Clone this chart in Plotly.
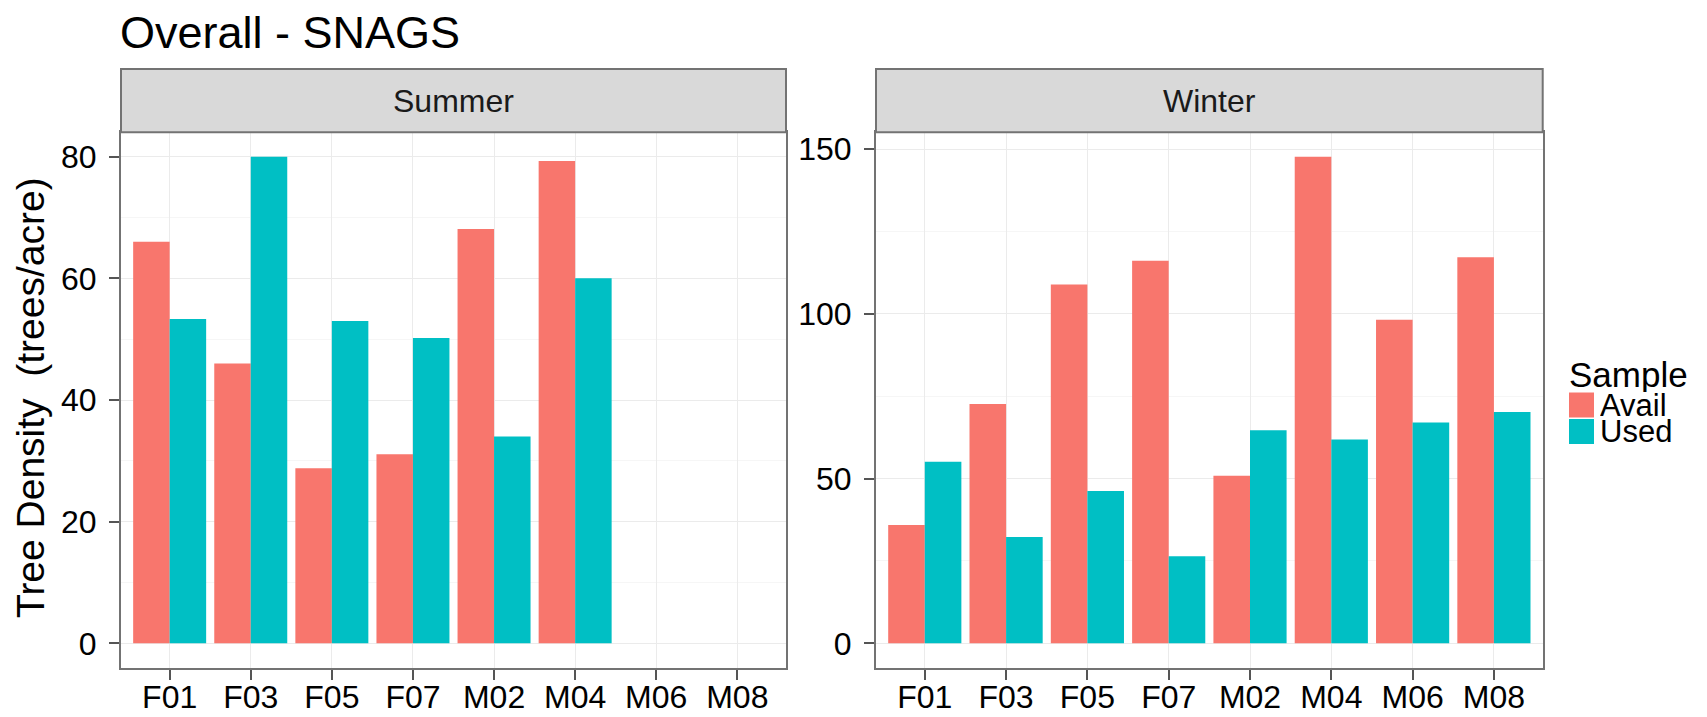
import plotly.graph_objects as go

# ---------------- data ----------------
categories = ["F01", "F03", "F05", "F07", "M02", "M04", "M06", "M08"]
panels = ["Summer", "Winter"]
series = ["Avail", "Used"]
summer_avail = [66.0, 46.0, 28.8, 31.1, 68.1, 79.3, None, None]
summer_used = [53.3, 80.0, 53.0, 50.2, 34.0, 60.0, None, None]
winter_avail = [35.9, 72.6, 108.9, 116.1, 50.9, 147.7, 98.2, 117.2]
winter_used = [55.1, 32.3, 46.2, 26.4, 64.7, 61.9, 67.0, 70.2]
summer_dtick = 20
winter_dtick = 50
title_text = "Overall - SNAGS"
y_title = "Tree Density  (trees/acre)"
legend_title = "Sample"

# ---------------- style ----------------
# The page body has an 8px default margin, so the figure is drawn 8px
# smaller and all target pixel positions are shifted by that offset.
OFF = 8
W, H = 1707 - OFF, 717 - OFF
FONT = "Liberation Sans, Arial, sans-serif"
colors = {"Avail": "#F8766D", "Used": "#00BFC4"}
border = "#737373"
tickc = "#555555"
grid_major = "#EBEBEB"
grid_minor = "#F6F6F6"


def px_x(v):
    return (v - OFF) / W


def px_y(v):
    return 1 - (v - OFF) / H


plot_top, plot_bot = 132.3, 667.7
strip_top = 69.0
sum_l, sum_r = 121.0, 786.0
win_l, win_r = 876.0, 1542.7

fig = go.Figure()

data = {
    ("Summer", "Avail"): summer_avail,
    ("Summer", "Used"): summer_used,
    ("Winter", "Avail"): winter_avail,
    ("Winter", "Used"): winter_used,
}

for i, p in enumerate(panels):
    xa = "x" if i == 0 else "x2"
    ya = "y" if i == 0 else "y2"
    for s in series:
        fig.add_trace(go.Bar(
            x=categories, y=data[(p, s)], name=s,
            marker=dict(color=colors[s], line=dict(width=0)),
            offsetgroup=s, xaxis=xa, yaxis=ya, showlegend=False,
        ))


def yrange(vals_a, vals_b):
    m = max(v for v in vals_a + vals_b if v is not None)
    pad = 0.05 * m
    return [-pad, m + pad]


common_x = dict(
    type="category", categoryorder="array", categoryarray=categories,
    range=[-0.6, len(categories) - 0.4], automargin=False,
    showgrid=True, gridcolor=grid_major, gridwidth=1.2,
    showline=True, linecolor=border, linewidth=2, mirror=True,
    ticks="outside", ticklen=10, tickwidth=1.5, tickcolor=tickc,
    tickfont=dict(family=FONT, size=32, color="black"),
    ticklabelstandoff=-10, zeroline=False, fixedrange=True,
)
common_y = dict(
    showgrid=True, gridcolor=grid_major, gridwidth=1.2, automargin=False,
    showline=True, linecolor=border, linewidth=2, mirror=True,
    ticks="outside", ticklen=10, tickwidth=1.5, tickcolor=tickc,
    tickfont=dict(family=FONT, size=32, color="black"),
    ticklabelstandoff=6, zeroline=False, tickmode="linear", tick0=0,
)

ydom = [px_y(plot_bot), px_y(plot_top)]
fig.update_layout(
    xaxis=dict(common_x, domain=[px_x(sum_l), px_x(sum_r)], anchor="y"),
    xaxis2=dict(common_x, domain=[px_x(win_l), px_x(win_r)], anchor="y2"),
    yaxis=dict(common_y, domain=ydom, anchor="x",
               range=yrange(summer_avail, summer_used), dtick=summer_dtick,
               minor=dict(dtick=summer_dtick / 2, showgrid=True,
                          gridcolor=grid_minor, gridwidth=1.2, ticks="")),
    yaxis2=dict(common_y, domain=ydom, anchor="x2",
                range=yrange(winter_avail, winter_used), dtick=winter_dtick,
                minor=dict(dtick=winter_dtick / 2, showgrid=True,
                           gridcolor=grid_minor, gridwidth=1.2, ticks="")),
    barmode="group", bargap=0.1, bargroupgap=0.0,
    width=W, height=H, margin=dict(l=0, r=0, t=0, b=0, autoexpand=False),
    paper_bgcolor="white", plot_bgcolor="white",
    showlegend=False,
    font=dict(family=FONT, color="black"),
)

strip_h = (plot_top - strip_top) / (plot_bot - plot_top)
shapes = []
annotations = []
for i, p in enumerate(panels):
    xr = "x domain" if i == 0 else "x2 domain"
    yr = "y domain" if i == 0 else "y2 domain"
    shapes.append(dict(type="rect", xref=xr, yref=yr, x0=0, x1=1, y0=1, y1=1 + strip_h,
                       fillcolor="#D9D9D9", line=dict(color=border, width=2), layer="above"))
    annotations.append(dict(text=p, xref=xr, yref=yr, x=0.5, y=1 + strip_h / 2,
                            xanchor="center", yanchor="middle", showarrow=False,
                            font=dict(family=FONT, size=32, color="#1A1A1A")))

# title
annotations.append(dict(text=title_text, xref="paper", yref="paper", x=px_x(118), y=px_y(33),
                        xanchor="left", yanchor="middle", showarrow=False,
                        font=dict(family=FONT, size=45, color="black")))
# y-axis title
annotations.append(dict(text=y_title, xref="paper", yref="paper", x=px_x(30), y=px_y(398),
                        xanchor="center", yanchor="middle", textangle=-90, showarrow=False,
                        font=dict(family=FONT, size=39, color="black")))

# legend (drawn manually so the keys match the reference size)
annotations.append(dict(text=legend_title, xref="paper", yref="paper", x=px_x(1567), y=px_y(374),
                        xanchor="left", yanchor="middle", showarrow=False, height=36,
                        font=dict(family=FONT, size=35, color="black")))
key_top = 392.5
key_h = 26.5
for j, s in enumerate(series):
    y0 = key_top + j * key_h
    shapes.append(dict(type="rect", xref="paper", yref="paper",
                       x0=px_x(1569), x1=px_x(1594), y0=px_y(y0 + 25), y1=px_y(y0),
                       fillcolor=colors[s], line=dict(width=0)))
    annotations.append(dict(text=s, xref="paper", yref="paper", x=px_x(1598), y=px_y(y0 + 13),
                            xanchor="left", yanchor="middle", showarrow=False, height=25,
                            font=dict(family=FONT, size=31, color="black")))

fig.update_layout(shapes=shapes, annotations=annotations)
fig.write_html("out.html")
